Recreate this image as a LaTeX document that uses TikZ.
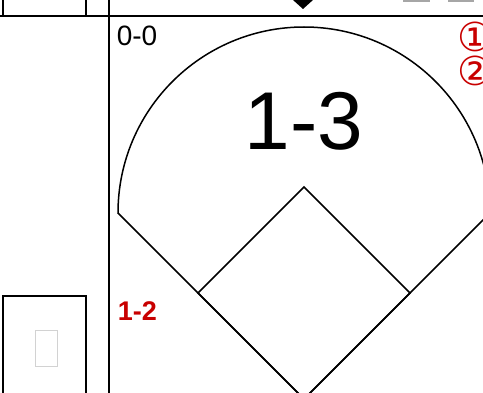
\documentclass[tikz,border=0pt]{standalone}
\usepackage{fontspec}
\setmainfont{Liberation Sans}
\newfontfamily\symfont{DejaVu Sans}
\definecolor{countred}{RGB}{200,0,0}

\begin{document}
\begin{tikzpicture}[x=1pt, y=-1pt, line width=1.5pt,
    lbl/.style={inner sep=0pt, anchor=base west}]
	\useasboundingbox (0,0) rectangle (483,393);
	\clip (0,0) rectangle (483,393);

	% panel frame
	\draw (0,16) -- (483,16);
	\draw (109,0) -- (109,393);
	\draw (3,-5) -- (3,16) -- (86,16) -- (86,-5);
	\draw (3,400) -- (3,296) -- (86,296) -- (86,400);
	\draw [gray!35, line width=1pt] (35,331) rectangle (57,367);

	% top marks
	\fill (293,0) -- (313,0) -- (303,9) -- cycle;
	\fill [gray!70] (403,0) rectangle (430,2.5);
	\fill [gray!70] (448,0) rectangle (474,2.5);

	\coordinate (home) at (304,399);
	\coordinate (first) at (410,293);
	\coordinate (second) at (304,187);
	\coordinate (third) at (198,293);
	\coordinate (lfoul) at (118,213);

	% outfield and infield
	\draw (lfoul) arc [start angle=180, end angle=0, radius=186pt] -- (home) -- cycle;
	\draw (home) -- (first) -- (second) -- (third) -- cycle;

	\node [lbl] (score) at (116,46) {\fontsize{28}{32}\selectfont 0-0};
	\node [anchor=base, inner sep=0pt] (count) at (304,150) {\fontsize{82}{90}\selectfont 1-3};
	\node [lbl, countred] (prev) at (117,321) {\fontsize{27}{30}\selectfont\bfseries 1-2};

	\node [countred, inner sep=0pt] (one) at (475,37) {\symfont\fontsize{40}{44}\selectfont ①};
	\node [countred, inner sep=0pt] (two) at (475,71) {\symfont\fontsize{40}{44}\selectfont ②};
\end{tikzpicture}
\end{document}
